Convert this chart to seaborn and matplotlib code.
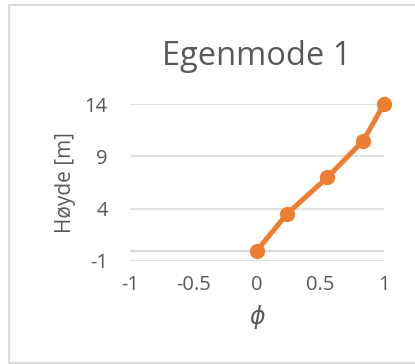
import matplotlib
matplotlib.use("Agg")
import matplotlib.pyplot as plt
from matplotlib.patches import Rectangle
import seaborn as sns
import pandas as pd

# Mode shape amplitudes and floor heights
phi = [0.0, 0.236, 0.555, 0.837, 1.0]
hoyde = [0.0, 3.5, 7.0, 10.5, 14.0]
x_ticks = [-1, -0.5, 0, 0.5, 1]
y_ticks = [-1, 4, 9, 14]

sns.set_theme(style="white")
plt.rcParams["font.family"] = ["Open Sans", "DejaVu Sans"]

df = pd.DataFrame({"phi": phi, "hoyde": hoyde})

fig = plt.figure(figsize=(4.15, 3.64), dpi=100)
ax = fig.add_axes([130 / 415, 1 - 261 / 364, 254 / 415, 157 / 364])

text_col = "#595959"
grid_col = "#d9d9d9"

for yt in y_ticks:
    ax.axhline(yt, color=grid_col, lw=1.1, zorder=0)
ax.axhline(0, color=grid_col, lw=1.6, zorder=0)

sns.lineplot(data=df, x="phi", y="hoyde", sort=False, ax=ax,
             color="#ED7D31", lw=3.6, marker="o", markersize=11,
             markeredgewidth=0, zorder=3, clip_on=False)

ax.set_xlim(-1, 1)
ax.set_ylim(-1, 14)
ax.set_xticks(x_ticks)
ax.set_xticklabels(["-1", "-0.5", "0", "0.5", "1"])
ax.set_yticks(y_ticks)
ax.set_yticklabels([str(v) for v in y_ticks])
for s in ax.spines.values():
    s.set_visible(False)
ax.grid(False)
ax.tick_params(axis="both", length=0, labelsize=14.5, colors=text_col)
ax.tick_params(axis="y", pad=16)
ax.tick_params(axis="x", pad=10)

ax.set_xlabel(r"$\phi$", fontsize=17, color=text_col, labelpad=6)
ax.set_ylabel("Høyde [m]", fontsize=15, color=text_col, labelpad=6)
ax.set_title("Egenmode 1", fontsize=23.5, color=text_col, pad=28)

fig.patches.append(Rectangle((9 / 415, 1 / 364), 420 / 415, 358 / 364,
                             transform=fig.transFigure, fill=False,
                             edgecolor=grid_col, lw=1.5))

fig.savefig("out.png", dpi=100, facecolor="white")
